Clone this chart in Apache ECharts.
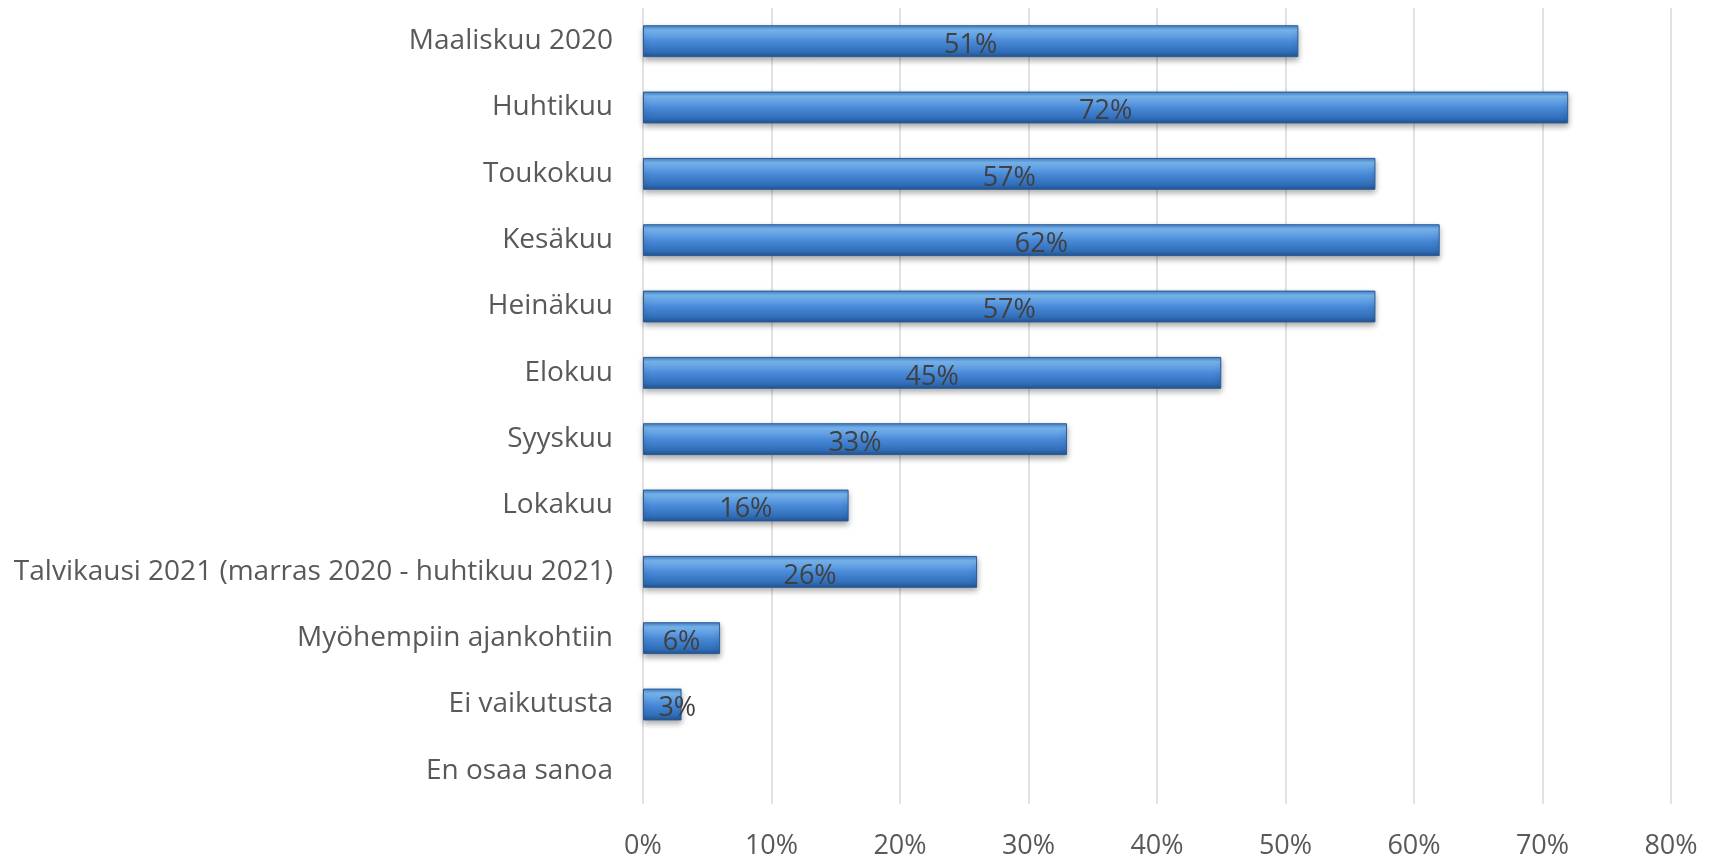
<!DOCTYPE html>
<html>
<head>
    <meta charset="utf-8">
    <title>Vaikutus</title>
    <script src="https://cdn.jsdelivr.net/npm/echarts@6/dist/echarts.min.js"></script>
    <style>
        html, body { margin: 0; padding: 0; background: #fff; }
    </style>
</head>
<body>
    <div id="main" style="width: 1718px;height:860px;"></div>
    <script type="text/javascript">
        // kategoriat ylhäältä alas
        var categories = ['Maaliskuu 2020', 'Huhtikuu', 'Toukokuu', 'Kesäkuu', 'Heinäkuu', 'Elokuu',
            'Syyskuu', 'Lokakuu', 'Talvikausi 2021 (marras 2020 - huhtikuu 2021)',
            'Myöhempiin ajankohtiin', 'Ei vaikutusta', 'En osaa sanoa'];
        var values = [51, 72, 57, 62, 57, 45, 33, 16, 26, 6, 3, 0];
        var xTicks = [0, 10, 20, 30, 40, 50, 60, 70, 80];

        var font = 'Open Sans';
        var myChart = echarts.init(document.getElementById('main'));

        // pienet palkit: nollapalkkia ei piirretä, 3 %:n otsikko vähän oikealle kuten Excelissä
        var barData = values.map(function (v) {
            if (!v) {
                return { value: v, itemStyle: { borderWidth: 0, shadowBlur: 0, opacity: 0 } };
            }
            if (v < 5) {
                return { value: v, label: { offset: [15, 4] } };
            }
            return v;
        });

        var option = {
            animation: false,
            grid: { left: 643, right: 47, top: 8, bottom: 54, containLabel: false },
            xAxis: {
                type: 'value',
                min: xTicks[0],
                max: xTicks[xTicks.length - 1],
                interval: 10,
                axisLine: { show: false },
                axisTick: { show: false },
                splitLine: { lineStyle: { color: '#d9d9d9', width: 1.5 } },
                axisLabel: {
                    formatter: '{value}%',
                    color: '#595959',
                    fontFamily: font,
                    fontSize: 27,
                    margin: 29
                }
            },
            yAxis: {
                type: 'category',
                inverse: true,
                data: categories,
                axisLine: { show: false },
                axisTick: { show: false },
                axisLabel: {
                    color: '#595959',
                    fontFamily: font,
                    fontSize: 28,
                    margin: 30,
                    padding: [0, 0, 6, 0]
                }
            },
            series: [{
                type: 'bar',
                data: barData,
                barWidth: '48%',
                itemStyle: {
                    color: new echarts.graphic.LinearGradient(0, 0, 0, 1, [
                        { offset: 0, color: '#3f7fcc' },
                        { offset: 0.15, color: '#7ab8f0' },
                        { offset: 0.5, color: '#4a8ad8' },
                        { offset: 0.85, color: '#2f6db8' },
                        { offset: 1, color: '#24528c' }
                    ]),
                    borderColor: '#2a5a94',
                    borderWidth: 1,
                    shadowColor: 'rgba(0,0,0,0.35)',
                    shadowBlur: 6,
                    shadowOffsetY: 3
                },
                label: {
                    show: true,
                    position: 'inside',
                    formatter: function (p) { return p.value ? p.value + '%' : ''; },
                    color: '#404040',
                    fontFamily: font,
                    fontSize: 27,
                    offset: [0, 4]
                }
            }]
        };
        myChart.setOption(option);
    </script>
</body>
</html>
